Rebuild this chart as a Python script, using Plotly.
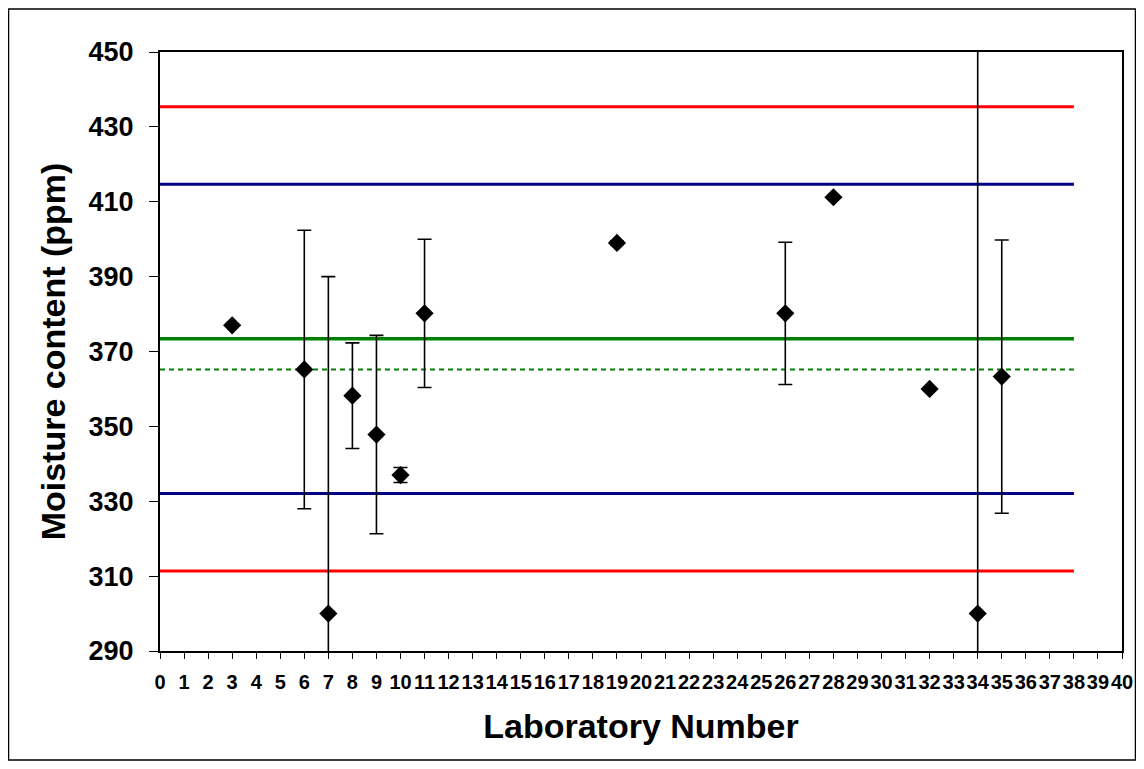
import plotly.graph_objects as go

# Data
labs = [3, 6, 7, 8, 9, 10, 11, 19, 26, 28, 32, 34, 35]
moisture = [377.0, 365.2, 300.0, 358.2, 347.8, 337.0, 380.2, 399.0, 380.2, 411.2, 360.0, 300.0, 363.3]
errors = [0.0, 37.2, 90.0, 14.1, 26.5, 2.0, 19.8, 0.5, 19.0, 0.0, 0.0, 200.0, 36.5]

line_x = [0, 38]
assigned_value = 373.4
robust_mean = 365.2
warning_limits = [332.1, 414.7]
action_limits = [311.4, 435.4]

x_ticks = list(range(0, 41))

FONT = "Liberation Sans, Arial, sans-serif"

fig = go.Figure()

for v in action_limits:
    fig.add_trace(go.Scatter(x=line_x, y=[v, v], mode="lines",
                             line=dict(color="#FF0000", width=3), hoverinfo="skip"))
for v in warning_limits:
    fig.add_trace(go.Scatter(x=line_x, y=[v, v], mode="lines",
                             line=dict(color="#000080", width=3), hoverinfo="skip"))
fig.add_trace(go.Scatter(x=line_x, y=[assigned_value, assigned_value], mode="lines",
                         line=dict(color="#008000", width=3.5), hoverinfo="skip"))
fig.add_trace(go.Scatter(x=line_x, y=[robust_mean, robust_mean], mode="lines",
                         line=dict(color="#008000", width=2, dash="5px,4px"), hoverinfo="skip"))

fig.add_trace(go.Scatter(
    x=labs, y=moisture, mode="markers",
    marker=dict(symbol="diamond", size=14, color="black"),
    error_y=dict(type="data", array=errors, visible=True, color="black",
                 thickness=1.6, width=7),
))

# page body has an 8px margin, so the figure is 8px smaller and shifted
fig.update_layout(
    width=1136, height=761,
    margin=dict(l=152, r=22, t=44, b=118),
    paper_bgcolor="white", plot_bgcolor="white",
    showlegend=False,
    font=dict(family=FONT, color="black"),
    xaxis=dict(
        range=[0, 40], tickmode="array", tickvals=x_ticks,
        ticktext=[str(t) for t in x_ticks], tickangle=0,
        showgrid=False, zeroline=False,
        showline=True, linecolor="black", linewidth=2, mirror=True,
        ticks="outside", ticklen=6, tickcolor="black", tickwidth=1,
        tickfont=dict(family=FONT, size=20, color="black", weight="bold"),
        ticklabelstandoff=6,
        title=dict(text="<b>Laboratory Number</b>", font=dict(family=FONT, size=34, color="black"),
                   standoff=22),
    ),
    yaxis=dict(
        range=[290, 450], tickmode="linear", tick0=290, dtick=20,
        showgrid=False, zeroline=False,
        showline=True, linecolor="black", linewidth=2, mirror=True,
        ticks="outside", ticklen=9, tickcolor="black", tickwidth=1,
        tickfont=dict(family=FONT, size=27, color="black", weight="bold"),
        ticklabelstandoff=10,
        title=dict(text="<b>Moisture content (ppm)</b>", font=dict(family=FONT, size=34, color="black"),
                   standoff=13),
    ),
    shapes=[dict(type="rect", xref="paper", yref="paper",
                 x0=(8.5 - 160) / 962, x1=(1135.5 - 160) / 962,
                 y0=(651 - 760) / 599, y1=(651 - 9) / 599,
                 line=dict(color="black", width=1.5), fillcolor="rgba(0,0,0,0)", layer="below")],
)

fig.write_html("out.html")
